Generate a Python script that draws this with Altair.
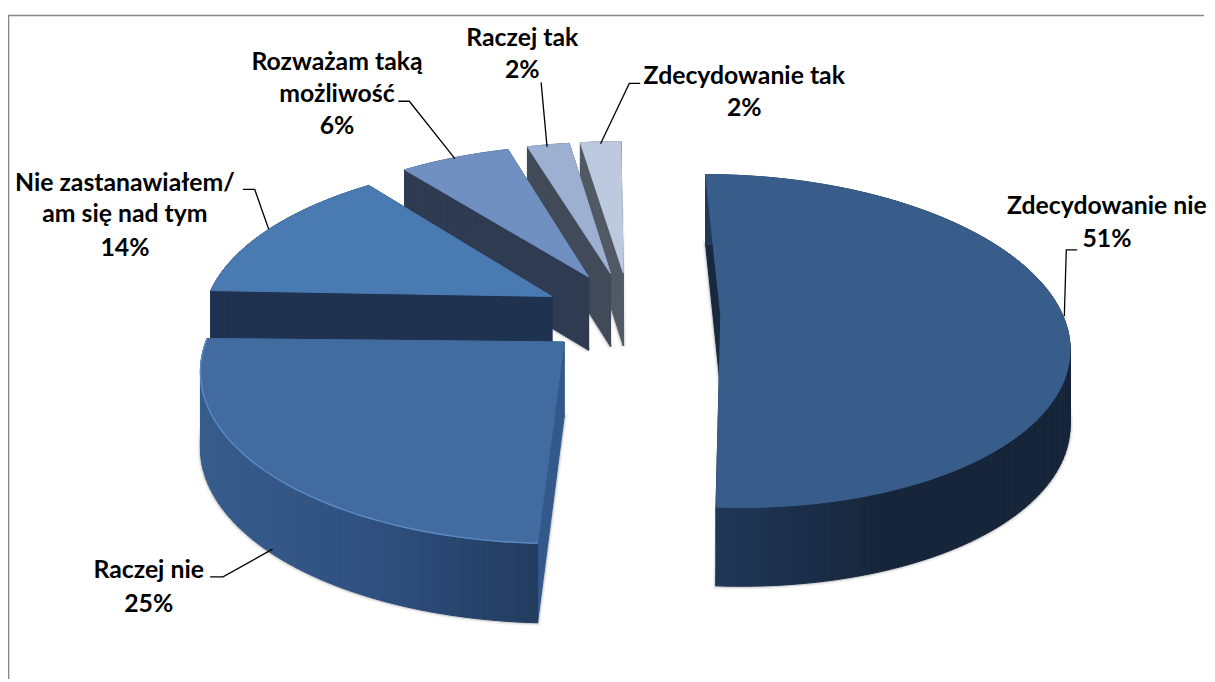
import math
import altair as alt
import pandas as pd

# ---- chart values -------------------------------------------------------
categories = ["Zdecydowanie nie", "Raczej nie", "Nie zastanawiałem/ am się nad tym",
              "Rozważam taką możliwość", "Raczej tak", "Zdecydowanie tak"]
values = [51.0, 24.6, 13.9, 6.0, 2.3, 2.2]
explode = [0.27, 0.24, 0.25, 0.27, 0.27, 0.27]
nudge = [0, 0, 0.007, 0.013, 0.012, 0.012]
twist = [0, -1.0, 0, 0, 0, 0]
x_radius = [0.978, 1, 1, 1, 1, 1]
first_angle = 0.0
top_colors = ["#385d8a", "#426ca0", "#4a7ab2", "#6f90c1", "#9db0d2", "#bcc9de"]
cut_colors = ["#17283f", "#33588a", "#1f3250", "#2e3b50", "#414a58", "#515a64"]
wall_left = ["#21395a", "#375d8c", "#1f3250", "#2e3b50", "#414a58", "#515a64"]
wall_mid = ["#16253a", "#2f5080", "#1f3250", "#2e3b50", "#414a58", "#515a64"]
wall_right = ["#16253a", "#233c60", "#1f3250", "#2e3b50", "#414a58", "#515a64"]

label_lines = [
    ["Zdecydowanie nie", "51%"],
    ["Raczej nie", "25%"],
    ["Nie zastanawiałem/", "am się nad tym", "14%"],
    ["Rozważam taką", "możliwość", "6%"],
    ["Raczej tak", "2%"],
    ["Zdecydowanie tak", "2%"],
]
label_x = [1117, 150, 126, 340, 527, 751]
label_y = [[205, 238], [572, 606], [182, 213, 247], [59, 92, 124], [35, 68], [74, 106]]
leaders = [
    [(1087, 249), (1076, 249), (1074, 316)],
    [(212, 579), (225, 579), (275, 551)],
    [(245, 188), (257, 188), (271, 228)],
    [(402, 99), (413, 99), (459, 157)],
    [(546, 80), (552, 145)],
    [(646, 81), (635, 81), (606, 142)],
]
frame = [(1216, 12.5), (8.5, 12.5), (8.5, 683)]

# ---- perspective of the 3-D pie -----------------------------------------
P, X0, A, E, Y0, B, DEPTH = 0.15, 632, 352.7, 91.5, 314.4, 116.6, 75


def project(x, z, h=0.0):
    w = 1 + P * z
    return [(X0 + A * x + E * z) / w, (Y0 - B * z) / w + h * (1 - 0.06 * z)]


def mix(c1, c2, t):
    a = [int(c1[i:i + 2], 16) for i in (1, 3, 5)]
    b = [int(c2[i:i + 2], 16) for i in (1, 3, 5)]
    return "#%02x%02x%02x" % tuple(round(p + (q - p) * t) for p, q in zip(a, b))


def poly(points, fill):
    pts = list(points) + [points[0]]
    return {"type": "Feature", "properties": {"fill": fill},
            "geometry": {"type": "Polygon", "coordinates": [pts]}}


def path(points, color="#000000"):
    return {"type": "Feature", "properties": {"fill": color},
            "geometry": {"type": "LineString", "coordinates": [list(p) for p in points]}}


shade, faces, rims = [], [], []
spans, cum = [], math.radians(first_angle)
for v in values:
    spans.append((cum, cum + v / sum(values) * 2 * math.pi))
    cum = spans[-1][1]

for i in reversed(range(len(values))):
    t0, t1 = spans[i]
    t0 += math.radians(twist[i])
    t1 += math.radians(twist[i])
    mid = (t0 + t1) / 2
    ex, ez = explode[i] * math.sin(mid) + nudge[i], explode[i] * math.cos(mid)
    n = max(6, int((t1 - t0) / math.radians(1.5)))
    angs = [t0 + (t1 - t0) * k / n for k in range(n + 1)]
    rim = [(ex + x_radius[i] * math.sin(a), ez + math.cos(a)) for a in angs]
    top = [project(x, z) for x, z in rim]
    low = [project(x, z, DEPTH) for x, z in rim]
    ctop, clow = project(ex, ez), project(ex, ez, DEPTH)
    shade.append(poly([clow] + low, "#a8a8a8"))
    # hidden cut face first, then the visible one, then the rim wall, then the lid
    faces.append(poly([ctop, top[-1], low[-1], clow], cut_colors[i]))
    faces.append(poly([ctop, top[0], low[0], clow], cut_colors[i]))
    xmin, xmax = min(p[0] for p in top), max(p[0] for p in top)
    for k in range(n):
        u = ((top[k][0] + top[k + 1][0]) / 2 - xmin) / max(1, xmax - xmin)
        col = mix(wall_left[i], wall_mid[i], u * 2) if u < .5 else mix(wall_mid[i], wall_right[i], u * 2 - 1)
        faces.append(poly([top[k], top[k + 1], low[k + 1], low[k]], col))
    faces.append(poly([ctop] + top, top_colors[i]))
    if i == 1:
        rims.append(path(top, "#5a8bc6"))


def layer_from(features):
    return alt.Chart(alt.InlineData(values={"type": "FeatureCollection", "features": features},
                                    format=alt.DataFormat(property="features", type="json")))


proj = dict(type="identity", scale=1, translate=[-8, -8])
FILL = alt.Fill("properties.fill:N", scale=None)
STROKE = alt.Stroke("properties.fill:N", scale=None)

frame_layer = layer_from([path(frame, "#868686")]).mark_geoshape(
    filled=False, strokeWidth=1.6).encode(stroke=STROKE).project(**proj)
shadow_outer = layer_from(shade).mark_geoshape(strokeWidth=6, opacity=0.18).encode(
    fill=FILL, stroke=STROKE).project(**proj)
shadow_inner = layer_from(shade).mark_geoshape(strokeWidth=3, opacity=0.45).encode(
    fill=FILL, stroke=STROKE).project(**proj)
pie_layer = layer_from(faces).mark_geoshape(strokeWidth=1).encode(
    fill=FILL, stroke=STROKE).project(**proj)
rim_layer = layer_from(rims).mark_geoshape(filled=False, strokeWidth=1.4).encode(
    stroke=STROKE).project(**proj)
leader_layer = layer_from([path(l) for l in leaders]).mark_geoshape(
    filled=False, strokeWidth=1.3).encode(stroke=STROKE).project(**proj)

rows = []
for lines, cx, ys in zip(label_lines, label_x, label_y):
    for text, cy in zip(lines, ys):
        rows.append({"text": text, "px": cx - 8, "py": cy - 8})
text_layer = alt.Chart(pd.DataFrame(rows)).mark_text(
    font="Lato", fontWeight="bold", fontSize=25, color="#000000",
    align="center", baseline="middle").encode(
    x=alt.X("px:Q", scale=None, axis=None),
    y=alt.Y("py:Q", scale=None, axis=None),
    text="text:N")

chart = alt.layer(frame_layer, shadow_outer, shadow_inner, pie_layer, rim_layer,
                  leader_layer, text_layer).properties(
    width=1207, height=674, padding=0, background="#ffffff"
).configure_view(strokeWidth=0)

chart.save("out.html", embed_options={"renderer": "svg", "actions": False})
